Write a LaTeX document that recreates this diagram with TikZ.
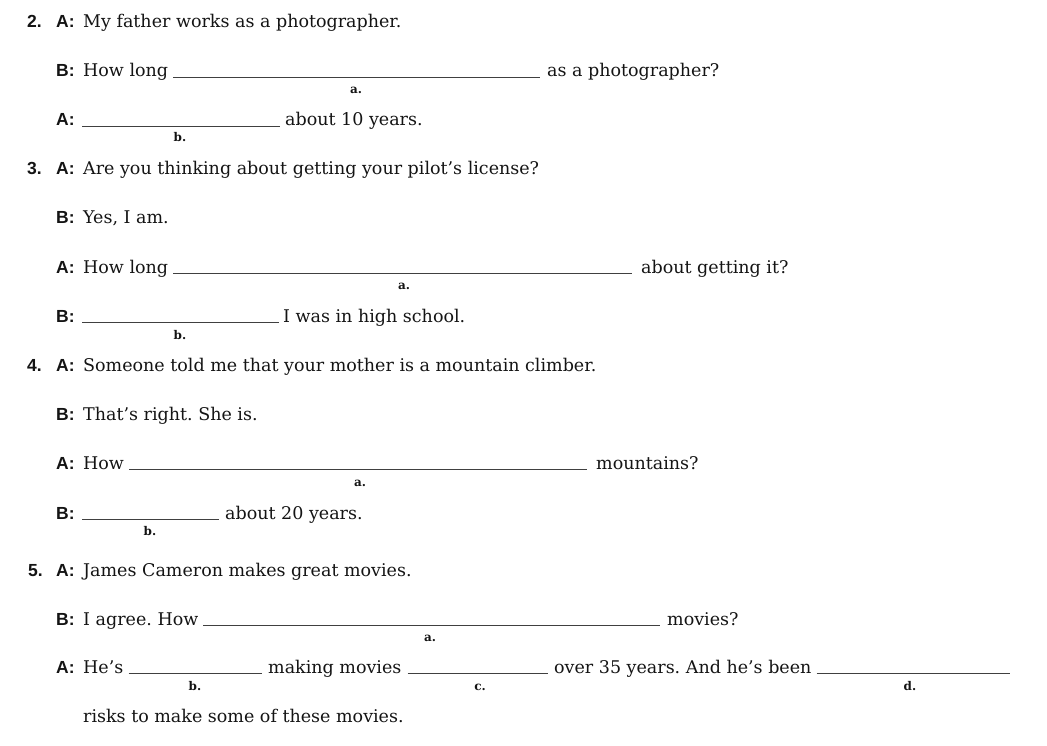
\documentclass[tikz,border=0pt]{standalone}
\usepackage{fontspec}
\setmainfont{DejaVu Serif}
\newfontfamily\spkfont{Liberation Sans}
\frenchspacing
\begin{document}
\begin{tikzpicture}[x=1pt,y=-1pt,
  txt/.style={anchor=base west,inner sep=0pt,text=black!92,font=\frenchspacing\fontsize{17.5}{20}\selectfont},
  spk/.style={anchor=base west,inner sep=0pt,text=black!92,font=\spkfont\bfseries\fontsize{17.5}{20}\selectfont},
  lbl/.style={anchor=base,inner sep=0pt,text=black!92,font=\bfseries\fontsize{12}{13}\selectfont},
  blank/.style={line width=0.9pt,draw=black!75}]
\useasboundingbox (0,0) rectangle (1047,746);
% ---------- 2 ----------
\node[spk] (n2) at (27,28) {2.};
\node[spk] (s2a) at (56,28) {A:};
\node[txt] (t2a) at (83,28) {My father works as a photographer.};
\node[spk] (s2b) at (56,77) {B:};
\node[txt] (t2b) at (83,77) {How long};
\coordinate (l2a2) at (540,77);
\draw[blank] ([xshift=5pt]t2b.base east) -- (l2a2);
\node[lbl] (a2) at (356,94) {a.};
\node[txt] (t2b2) at (547,77) {as a photographer?};
\node[spk] (s2c) at (56,126) {A:};
\coordinate (l2b1) at (82,126); \coordinate (l2b2) at (280,126);
\draw[blank] (l2b1) -- (l2b2);
\node[lbl] (b2) at (180,142) {b.};
\node[txt] (t2c) at (285,126) {about 10 years.};
% ---------- 3 ----------
\node[spk] (n3) at (27,175) {3.};
\node[spk] (s3a) at (56,175) {A:};
\node[txt] (t3a) at (83,175) {Are you thinking about getting your pilot’s license?};
\node[spk] (s3b) at (56,224) {B:};
\node[txt] (t3b) at (83,224) {Yes, I am.};
\node[spk] (s3c) at (56,273) {A:};
\node[txt] (t3c) at (83,273) {How long};
\coordinate (l3a2) at (632,273);
\draw[blank] ([xshift=5pt]t3c.base east) -- (l3a2);
\node[lbl] (a3) at (404,290) {a.};
\node[txt] (t3c2) at (641,273) {about getting it?};
\node[spk] (s3d) at (56,322) {B:};
\coordinate (l3b1) at (82,322); \coordinate (l3b2) at (279,322);
\draw[blank] (l3b1) -- (l3b2);
\node[lbl] (b3) at (180,339) {b.};
\node[txt] (t3d) at (283,322) {I was in high school.};
% ---------- 4 ----------
\node[spk] (n4) at (27,371) {4.};
\node[spk] (s4a) at (56,371) {A:};
\node[txt] (t4a) at (83,371) {Someone told me that your mother is a mountain climber.};
\node[spk] (s4b) at (56,420) {B:};
\node[txt] (t4b) at (83,420) {That’s right. She is.};
\node[spk] (s4c) at (56,469) {A:};
\node[txt] (t4c) at (83,469) {How};
\coordinate (l4a2) at (587,469);
\draw[blank] ([xshift=5pt]t4c.base east) -- (l4a2);
\node[lbl] (a4) at (360,486) {a.};
\node[txt] (t4c2) at (596,469) {mountains?};
\node[spk] (s4d) at (56,519) {B:};
\coordinate (l4b1) at (82,519); \coordinate (l4b2) at (219,519);
\draw[blank] (l4b1) -- (l4b2);
\node[lbl] (b4) at (150,535) {b.};
\node[txt] (t4d) at (225,519) {about 20 years.};
% ---------- 5 ----------
\node[spk] (n5) at (28,576) {5.};
\node[spk] (s5a) at (56,576) {A:};
\node[txt] (t5a) at (83,576) {James Cameron makes great movies.};
\node[spk] (s5b) at (56,625) {B:};
\node[txt] (t5b) at (83,625) {I agree. How};
\coordinate (l5a2) at (660,625);
\draw[blank] ([xshift=5pt]t5b.base east) -- (l5a2);
\node[lbl] (a5) at (430,641) {a.};
\node[txt] (t5b2) at (667,625) {movies?};
\node[spk] (s5c) at (56,673) {A:};
\node[txt] (t5c) at (83,673) {He’s};
\coordinate (l5b2) at (262,673);
\draw[blank] ([xshift=5pt]t5c.base east) -- (l5b2);
\node[lbl] (b5) at (195,690) {b.};
\node[txt] (t5c2) at (268,673) {making movies};
\coordinate (l5c2) at (548,673);
\draw[blank] ([xshift=6pt]t5c2.base east) -- (l5c2);
\node[lbl] (c5) at (480,690) {c.};
\node[txt] (t5c3) at (554,673) {over 35 years. And he’s been};
\coordinate (l5d2) at (1010,673);
\draw[blank] ([xshift=5pt]t5c3.base east) -- (l5d2);
\node[lbl] (d5) at (910,690) {d.};
\node[txt] (t5d) at (83,722) {risks to make some of these movies.};
\end{tikzpicture}
\end{document}
